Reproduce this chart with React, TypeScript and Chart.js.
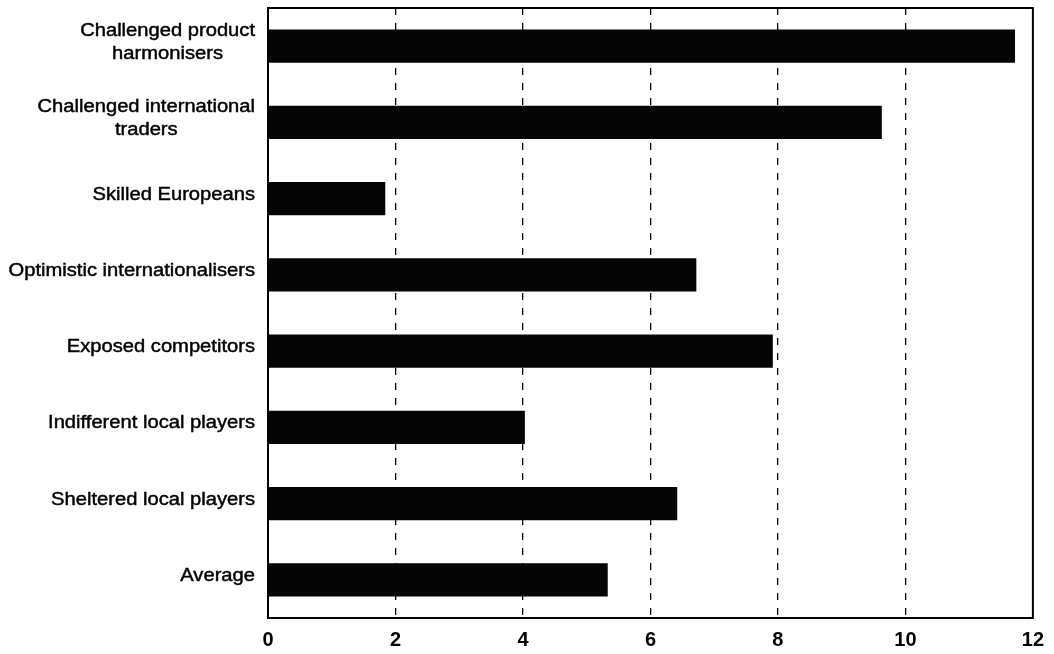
import React, { useEffect, useRef } from "react";
import { Chart, registerables } from "chart.js";

Chart.register(...registerables);

// Segment names (one entry per line of the label)
const categories: string[][] = [
  ["Challenged product", "harmonisers"],
  ["Challenged international", "traders"],
  ["Skilled Europeans"],
  ["Optimistic internationalisers"],
  ["Exposed competitors"],
  ["Indifferent local players"],
  ["Sheltered local players"],
  ["Average"],
];

const values: number[] = [11.72, 9.63, 1.84, 6.72, 7.92, 4.03, 6.42, 5.33];

const xMin = 0;
const xMax = 12;
const xStep = 2;

const LABEL_FONT = '18px "Liberation Sans", Arial, sans-serif';
const TICK_FONT_FAMILY = '"Liberation Sans", Arial, sans-serif';

// Draws multi-line category labels: each block right-aligned to the axis,
// its lines centred within the block.
const categoryLabels = {
  id: "categoryLabels",
  afterDraw(chart: any) {
    const ctx: CanvasRenderingContext2D = chart.ctx;
    const yScale = chart.scales.y;
    const right = chart.chartArea.left - 13;
    const sx = 1.12;
    const lineHeight = 23;
    ctx.save();
    ctx.font = LABEL_FONT;
    ctx.fillStyle = "#000";
    ctx.strokeStyle = "#000";
    ctx.lineWidth = 0.45;
    ctx.textBaseline = "middle";
    ctx.textAlign = "center";
    categories.forEach((lines, i) => {
      const cy = yScale.getPixelForTick(i) - 4;
      const w = Math.max(...lines.map((l) => ctx.measureText(l).width)) * sx;
      const cx = right - w / 2;
      lines.forEach((line, j) => {
        const ly = cy + (j - (lines.length - 1) / 2) * lineHeight;
        ctx.save();
        ctx.translate(cx, ly);
        ctx.scale(sx, 1);
        ctx.fillText(line, 0, 0);
        ctx.strokeText(line, 0, 0);
        ctx.restore();
      });
    });
    ctx.restore();
  },
};

// Solid frame around the plotting area
const plotFrame = {
  id: "plotFrame",
  afterDatasetsDraw(chart: any) {
    const { left, top, right, bottom } = chart.chartArea;
    const ctx: CanvasRenderingContext2D = chart.ctx;
    ctx.save();
    ctx.strokeStyle = "#000";
    ctx.lineWidth = 2;
    ctx.strokeRect(left, top, right - left, bottom - top);
    ctx.restore();
  },
};

export default function App() {
  const canvasRef = useRef<HTMLCanvasElement | null>(null);

  useEffect(() => {
    if (!canvasRef.current) return;
    const chart = new Chart(canvasRef.current, {
      type: "bar",
      data: {
        labels: categories.map((c) => c.join(" ")),
        datasets: [
          {
            data: values,
            backgroundColor: "#050505",
            borderWidth: 0,
            categoryPercentage: 1,
            barPercentage: 0.433,
          },
        ],
      },
      options: {
        indexAxis: "y",
        animation: false,
        responsive: true,
        maintainAspectRatio: false,
        layout: { padding: { top: 8, right: 20, bottom: 0, left: 0 } },
        plugins: {
          legend: { display: false },
          tooltip: { enabled: false },
        },
        scales: {
          x: {
            min: xMin,
            max: xMax,
            ticks: {
              stepSize: xStep,
              color: "#000",
              padding: 10,
              font: { family: TICK_FONT_FAMILY, size: 20, weight: "bold" },
            },
            grid: {
              drawTicks: false,
              lineWidth: 1.3,
              color: (ctx: any) =>
                ctx.tick && (ctx.tick.value === xMin || ctx.tick.value === xMax)
                  ? "rgba(0,0,0,0)"
                  : "#000",
            },
            border: { display: false, dash: [7, 8] },
            afterFit: (s: any) => {
              s.height = 36;
            },
          },
          y: {
            ticks: { display: false },
            grid: { display: false, drawTicks: false },
            border: { display: false },
            afterFit: (s: any) => {
              s.width = 268;
            },
          },
        },
      },
      plugins: [plotFrame, categoryLabels],
    });
    return () => chart.destroy();
  }, []);

  return (
    <div
      style={{
        position: "absolute",
        left: 0,
        top: 0,
        width: 1054,
        height: 654,
        background: "#fff",
      }}
    >
      <canvas ref={canvasRef} />
    </div>
  );
}
